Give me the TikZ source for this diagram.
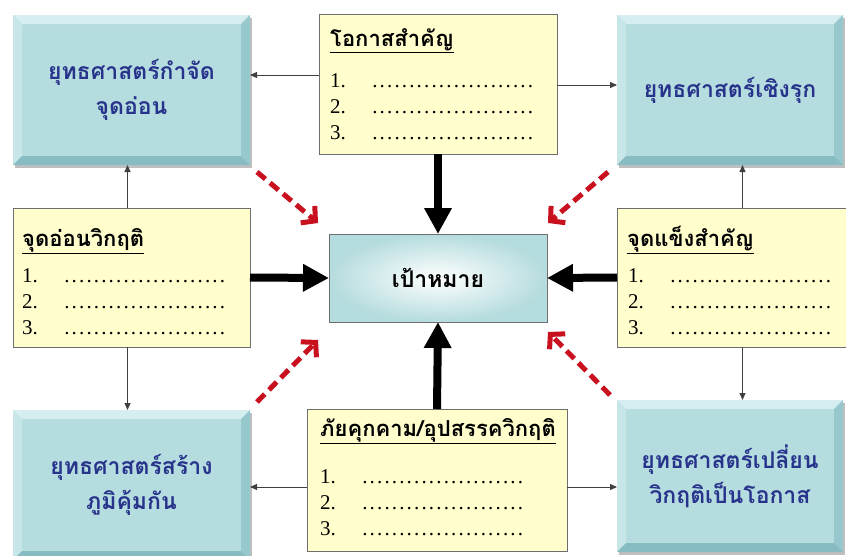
\documentclass[tikz,border=0pt]{standalone}
\usepackage{fontspec}
\setmainfont{Liberation Serif}
\newfontfamily\thai[Script=Thai]{Loma}
\usetikzlibrary{arrows.meta,shadows}

\definecolor{tealbase}{RGB}{181,220,222}
\definecolor{teallight}{RGB}{214,238,240}
\definecolor{tealleft}{RGB}{198,230,232}
\definecolor{tealright}{RGB}{150,200,205}
\definecolor{tealbottom}{RGB}{135,188,194}
\definecolor{tblue}{RGB}{40,52,140}
\definecolor{ybox}{RGB}{255,254,204}
\definecolor{bgray}{RGB}{110,110,110}
\definecolor{dred}{RGB}{200,16,30}

\newcommand{\dotrow}[1]{\hbox to #1{\xleaders\hbox to 7.4pt{\hss.\hss}\hfill}}
\newcommand{\numrow}[1]{\makebox[41pt][l]{#1}\dotrow{163pt}}

\tikzset{
  tealbox/.style={
    fill=tealbase, inner sep=0pt, outer sep=0pt, align=center,
    text=tblue, font=\thai\bfseries\fontsize{23}{35}\selectfont,
    drop shadow={shadow xshift=1.5pt, shadow yshift=-2.5pt, opacity=0.25, fill=black},
    path picture={
      \def\bv{9pt}
      \fill[teallight] (path picture bounding box.north west) -- (path picture bounding box.north east)
        -- ([xshift=-\bv,yshift=-\bv]path picture bounding box.north east)
        -- ([xshift=\bv,yshift=-\bv]path picture bounding box.north west) -- cycle;
      \fill[tealleft] (path picture bounding box.north west) -- (path picture bounding box.south west)
        -- ([xshift=\bv,yshift=\bv]path picture bounding box.south west)
        -- ([xshift=\bv,yshift=-\bv]path picture bounding box.north west) -- cycle;
      \fill[tealright] (path picture bounding box.north east) -- (path picture bounding box.south east)
        -- ([xshift=-\bv,yshift=\bv]path picture bounding box.south east)
        -- ([xshift=-\bv,yshift=-\bv]path picture bounding box.north east) -- cycle;
      \fill[tealbottom] (path picture bounding box.south west) -- (path picture bounding box.south east)
        -- ([xshift=-\bv,yshift=\bv]path picture bounding box.south east)
        -- ([xshift=\bv,yshift=\bv]path picture bounding box.south west) -- cycle;
    }},
  ybox/.style={fill=ybox, draw=bgray, line width=1pt, inner sep=0pt, outer sep=0pt},
  yhead/.style={anchor=base west, inner sep=0pt, font=\thai\bfseries\fontsize{22}{26}\selectfont},
  yrows/.style={anchor=north west, inner sep=0pt, align=left,
    font=\fontsize{21}{26}\selectfont},
  goalbox/.style={draw=bgray, line width=1pt, inner color=white, outer color=tealbase,
    inner sep=0pt, outer sep=0pt, font=\thai\bfseries\fontsize{23}{26}\selectfont},
  thinarrow/.style={draw=black!75, line width=0.9pt, -{Triangle[length=7pt,width=6pt]}},
  thickarrow/.style={draw=black, line width=8pt, -{Triangle[length=26pt,width=26pt]}},
  redarrow/.style={draw=dred, line width=5pt, dash pattern=on 11pt off 6pt,
    -{Straight Barb[length=10pt,width=22pt]}},
}

\begin{document}
\begin{tikzpicture}[x=1pt,y=-1pt]
\useasboundingbox (0,0) rectangle (846,555);

% teal strategy boxes
\node[tealbox, minimum width=237pt, minimum height=150pt] (tl) at (131.5,90) {ยุทธศาสตร์กำจัด\\จุดอ่อน};
\node[tealbox, minimum width=226pt, minimum height=150pt] (tr) at (730,90) {ยุทธศาสตร์เชิงรุก};
\node[tealbox, minimum width=237pt, minimum height=150pt] (bl) at (131.5,485) {ยุทธศาสตร์สร้าง\\ภูมิคุ้มกัน};
\node[tealbox, minimum width=226pt, minimum height=152pt] (br) at (730,476) {ยุทธศาสตร์เปลี่ยน\\วิกฤติเป็นโอกาส};

% yellow boxes
\node[ybox, minimum width=238pt, minimum height=140pt] (ty) at (438,84) {};
\node[ybox, minimum width=237pt, minimum height=139pt] (ml) at (131.5,277.5) {};
\node[ybox, minimum width=233pt, minimum height=139pt] (mr) at (733.5,277.5) {};
\node[ybox, minimum width=260pt, minimum height=142pt] (by) at (437,480) {};

\node[yhead] (tyh) at (330,46) {\underline{โอกาสสำคัญ}};
\node[yrows] (tyr) at (330,73) {\numrow{1.}\\\numrow{2.}\\\numrow{3.}};
\node[yhead] (mlh) at (22,246) {\underline{จุดอ่อนวิกฤติ}};
\node[yrows] (mlr) at (22,268) {\numrow{1.}\\\numrow{2.}\\\numrow{3.}};
\node[yhead] (mrh) at (627,246) {\underline{จุดแข็งสำคัญ}};
\node[yrows] (mrr) at (628,268) {\numrow{1.}\\\numrow{2.}\\\numrow{3.}};
\node[yhead] (byh) at (320,436) {\underline{ภัยคุกคาม/อุปสรรควิกฤติ}};
\node[yrows] (byr) at (320,469) {\numrow{1.}\\\numrow{2.}\\\numrow{3.}};

% goal
\node[goalbox, minimum width=218pt, minimum height=88pt] (ct) at (438,278) {เป้าหมาย};

% thin arrows
\coordinate (a1) at ([yshift=9pt]ty.west);
\draw[thinarrow] (a1) -- (a1 -| tl.east);
\coordinate (a0) at ([yshift=-1pt]ty.east);
\draw[thinarrow] (a0) -- (a0 -| tr.west);
\coordinate (a2) at ([yshift=-7pt]by.west);
\draw[thinarrow] (a2) -- (a2 -| bl.east);
\coordinate (a3) at ([yshift=-7pt]by.east);
\draw[thinarrow] (a3) -- (a3 -| br.west);
\coordinate (a4) at ([xshift=-4pt]ml.north);
\draw[thinarrow] (a4) -- (a4 |- tl.south);
\coordinate (a5) at ([xshift=-4pt]ml.south);
\draw[thinarrow] (a5) -- (a5 |- bl.north);
\coordinate (a6) at ([xshift=9pt]mr.north);
\draw[thinarrow] (a6) -- (a6 |- tr.south);
\coordinate (a7) at ([xshift=9pt]mr.south);
\draw[thinarrow] (a7) -- (a7 |- br.north);

% thick arrows
\draw[thickarrow] (ty.south) -- (ct.north);
\draw[thickarrow] (by.north) -- (ct.south);
\draw[thickarrow] (ml.east) -- (ct.west);
\draw[thickarrow] (mr.west) -- (ct.east);

% red dashed arrows
\coordinate (r1s) at (257,172); \coordinate (r1e) at (318,223);
\coordinate (r2s) at (608,172); \coordinate (r2e) at (548,223);
\coordinate (r3s) at (257,402); \coordinate (r3e) at (318,340);
\coordinate (r4s) at (610,395); \coordinate (r4e) at (548,332);
\draw[redarrow] (r1s) -- (r1e);
\draw[redarrow] (r2s) -- (r2e);
\draw[redarrow] (r3s) -- (r3e);
\draw[redarrow] (r4s) -- (r4e);
\end{tikzpicture}
\end{document}
